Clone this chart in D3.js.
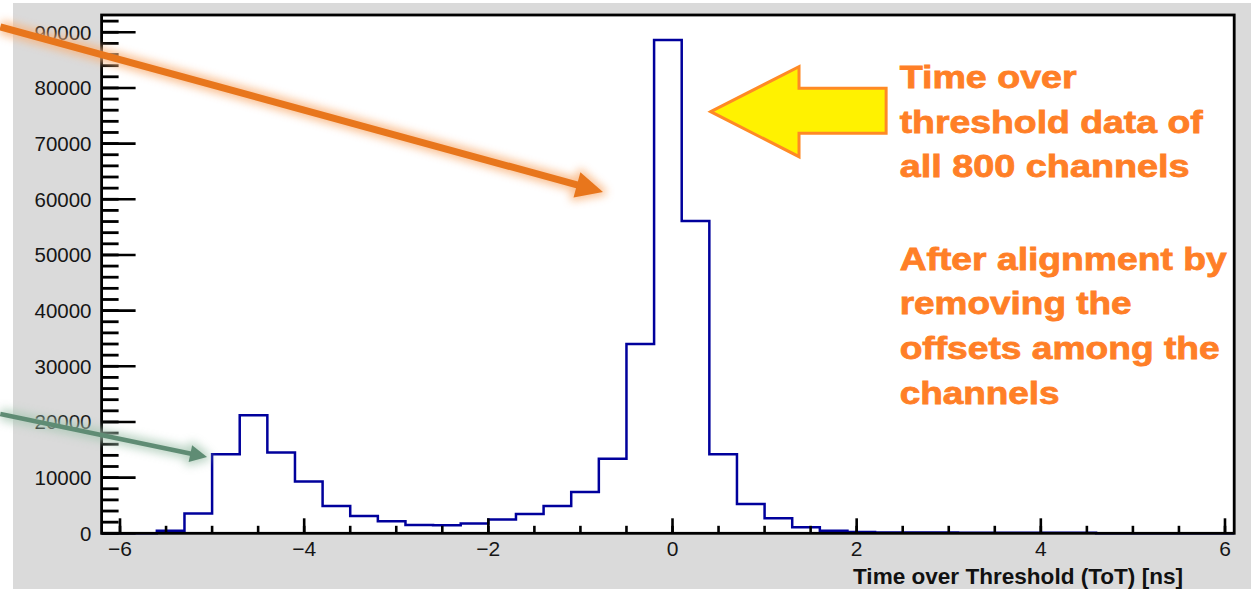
<!DOCTYPE html>
<html><head><meta charset="utf-8">
<script src="https://cdn.jsdelivr.net/npm/d3@7"></script>
<style>html,body{margin:0;padding:0;background:#fff;overflow:hidden}</style>
</head><body>
<svg id="chart" width="1251" height="589"></svg>
<script>
// Histogram of time-over-threshold values (bins of 0.3 ns starting at -6.2 ns)
const binLow = -6.2;
const binWidth = 0.3;
const counts = [0, 30, 450, 3550, 14200, 21200, 14500, 9300, 4900, 3100,
  2150, 1500, 1450, 1750, 2500, 3450, 4900, 7400, 13400, 34000,
  88600, 56100, 14200, 5250, 2700, 1080, 470, 230, 150, 140,
  130, 120, 110, 110, 100, 90, 0, 0, 0, 0, 0];

const xMajorTicks = [-6, -4, -2, 0, 2, 4, 6];
const yMajorTicks = [0, 10000, 20000, 30000, 40000, 50000, 60000, 70000, 80000, 90000];
const xTitle = "Time over Threshold (ToT) [ns]";
const noteTop = ["Time over", "threshold data of", "all 800 channels"];
const noteBottom = ["After alignment by", "removing the", "offsets among the", "channels"];

const svg = d3.select("#chart");
const W = 1251, H = 589;
const FONT = "'Liberation Sans', Arial, sans-serif";

// canvas background
svg.append("rect").attr("x", 13).attr("y", 3).attr("width", W - 13).attr("height", H - 3).attr("fill", "#dadada");

const x = d3.scaleLinear().domain([-6.2, 6.1]).range([101.6, 1234.2]);
const y = d3.scaleLinear().domain([0, 93100]).range([533.3, 15]);

const fx0 = x.range()[0], fx1 = x.range()[1], fy0 = y.range()[0], fy1 = y.range()[1];
svg.append("rect").attr("x", fx0).attr("y", fy1).attr("width", fx1 - fx0).attr("height", fy0 - fy1).attr("fill", "#fff");

// histogram outline
const pts = counts.map((c, i) => [binLow + i * binWidth, c]);
pts.push([binLow + counts.length * binWidth, counts[counts.length - 1]]);
const line = d3.line().x(d => x(d[0])).y(d => y(d[1])).curve(d3.curveStepAfter);
svg.append("path").attr("d", line(pts)).attr("fill", "none").attr("stroke", "#00009c").attr("stroke-width", 2.5);

// frame
svg.append("rect").attr("x", fx0).attr("y", fy1).attr("width", fx1 - fx0).attr("height", fy0 - fy1)
  .attr("fill", "none").attr("stroke", "#000").attr("stroke-width", 2.8);

// y axis ticks (drawn inward)
const yMinor = d3.range(0, 93100, 2000);
const gy = svg.append("g");
gy.selectAll("line.mi").data(yMinor).join("line")
  .attr("x1", fx0).attr("x2", fx0 + 17).attr("y1", d => y(d)).attr("y2", d => y(d))
  .attr("stroke", "#000").attr("stroke-width", 2.8);
gy.selectAll("line.ma").data(yMajorTicks).join("line")
  .attr("x1", fx0).attr("x2", fx0 + 34).attr("y1", d => y(d)).attr("y2", d => y(d))
  .attr("stroke", "#000").attr("stroke-width", 2.6);

function label(g, tx, ty, txt, anchor, size, weight) {
  return g.append("text").attr("x", tx).attr("y", ty)
    .attr("text-anchor", anchor).attr("font-family", FONT)
    .attr("font-size", size).attr("font-weight", weight).attr("fill", "#161616").text(txt);
}
yMajorTicks.forEach(v => label(gy, 91.5, y(v) + 7.4, d3.format("d")(v), "end", 20.5, "normal"));

// x axis ticks
const xMinor = d3.range(-6, 6.01, 0.5);
const gx = svg.append("g");
gx.selectAll("line.mi").data(xMinor).join("line")
  .attr("x1", d => x(d)).attr("x2", d => x(d)).attr("y1", fy0).attr("y2", fy0 - 7.5)
  .attr("stroke", "#000").attr("stroke-width", 2.6);
gx.selectAll("line.ma").data(xMajorTicks).join("line")
  .attr("x1", d => x(d)).attr("x2", d => x(d)).attr("y1", fy0).attr("y2", fy0 - 15)
  .attr("stroke", "#000").attr("stroke-width", 2.6);
xMajorTicks.forEach(v => label(gx, x(v), 555.5, d3.format("d")(v), "middle", 21, "normal"));

label(svg, 1183, 584, xTitle, "end", 22, "bold")
  .attr("textLength", 330).attr("lengthAdjust", "spacingAndGlyphs").attr("fill", "#111");

// glow filters for the call-out arrows
const defs = svg.append("defs");
[["glowO", 4], ["glowG", 5]].forEach(([id, s]) => {
  defs.append("filter").attr("id", id).attr("x", "-20%").attr("y", "-50%").attr("width", "140%").attr("height", "200%")
    .append("feGaussianBlur").attr("stdDeviation", s);
});

function callout(from, to, width, headLen, headHalf, color, glow, glowId) {
  const p0 = [x(from[0]), y(from[1])], p1 = [x(to[0]), y(to[1])];
  const dx = p1[0] - p0[0], dy = p1[1] - p0[1], L = Math.hypot(dx, dy);
  const ux = dx / L, uy = dy / L, px = -uy, py = ux;
  const bx = p1[0] - ux * headLen, by = p1[1] - uy * headLen;
  const head = [[p1[0], p1[1]], [bx + px * headHalf, by + py * headHalf], [bx - px * headHalf, by - py * headHalf]];
  const g = svg.append("g");
  const gl = g.append("g").attr("filter", `url(#${glowId})`).attr("opacity", 0.8);
  gl.append("line").attr("x1", p0[0]).attr("y1", p0[1]).attr("x2", bx).attr("y2", by)
    .attr("stroke", glow).attr("stroke-width", width + 7);
  gl.append("polygon").attr("points", head.map(p => p.join(",")).join(" ")).attr("fill", glow)
    .attr("stroke", glow).attr("stroke-width", 7).attr("stroke-linejoin", "round");
  g.append("line").attr("x1", p0[0]).attr("y1", p0[1]).attr("x2", bx + ux * 2).attr("y2", by + uy * 2)
    .attr("stroke", color).attr("stroke-width", width);
  g.append("polygon").attr("points", head.map(p => p.join(",")).join(" ")).attr("fill", color);
}
callout([-7.30, 90960], [-0.755, 61310], 7, 27, 13, "#e8761c", "#f9b27a", "glowO");
callout([-7.30, 21430], [-5.055, 13700], 4.5, 17, 8.5, "#5f8c74", "#a8c8b4", "glowG");

// block arrow pointing at the peak
const tipX = x(0.415), tipY = y(75740);
const headX = x(1.374), tailX = x(2.32);
const headTop = y(83820), headBot = y(67650), shaftTop = y(79940), shaftBot = y(71860);
svg.append("polygon")
  .attr("points", [[tipX, tipY], [headX, headTop], [headX, shaftTop], [tailX, shaftTop], [tailX, shaftBot], [headX, shaftBot], [headX, headBot]].map(p => p.join(",")).join(" "))
  .attr("fill", "#fff200").attr("stroke", "#ff8a25").attr("stroke-width", 3).attr("stroke-linejoin", "miter");

// notes
const noteX = x(2.467);
const gn = svg.append("g").attr("font-family", FONT).attr("font-weight", "bold")
  .attr("font-size", 31).attr("fill", "#ff7f27");
const topW = [177, 303, 290], botW = [327, 232, 320, 160];
noteTop.forEach((t, i) => gn.append("text").attr("x", noteX).attr("y", 88 + i * 44.6)
  .attr("textLength", topW[i]).attr("lengthAdjust", "spacingAndGlyphs")
  .attr("stroke", "#ff7f27").attr("stroke-width", 0.8).text(t));
noteBottom.forEach((t, i) => gn.append("text").attr("x", noteX).attr("y", 269.5 + i * 44.7)
  .attr("textLength", botW[i]).attr("lengthAdjust", "spacingAndGlyphs")
  .attr("stroke", "#ff7f27").attr("stroke-width", 0.8).text(t));
</script>
</body></html>
